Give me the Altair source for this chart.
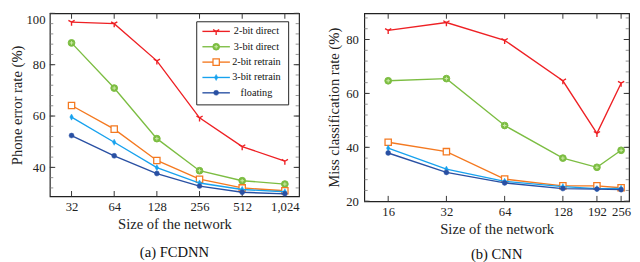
import altair as alt
import pandas as pd

SERIF = "'Liberation Serif', 'Times New Roman', 'DejaVu Serif', serif"

series = ["2-bit direct", "3-bit direct", "2-bit retrain", "3-bit retrain", "floating"]
colors = ["#ee2024", "#7cbd42", "#f47920", "#17a2ee", "#2950a3"]

# (a) FCDNN
fc_sizes = [32, 64, 128, 256, 512, 1024]
fc_2bit_direct = [96.6, 96.0, 81.5, 59.3, 48.1, 42.4]
fc_3bit_direct = [88.5, 70.9, 51.2, 38.7, 34.8, 33.5]
fc_2bit_retrain = [64.1, 54.9, 42.7, 35.4, 32.0, 30.9]
fc_3bit_retrain = [59.6, 49.8, 39.9, 33.9, 31.4, 30.5]
fc_floating = [52.4, 44.5, 37.6, 32.7, 30.3, 29.7]
fc_yticks = [40, 60, 80, 100]
fc_yminor = list(range(32, 101, 4))

# (b) CNN
cnn_sizes = [16, 32, 64, 128, 192, 256]
cnn_2bit_direct = [83.4, 86.3, 79.7, 64.7, 45.2, 63.8]
cnn_3bit_direct = [64.7, 65.5, 48.1, 36.0, 32.6, 38.9]
cnn_2bit_retrain = [41.9, 38.4, 28.2, 25.7, 25.7, 25.0]
cnn_3bit_retrain = [39.7, 31.9, 27.4, 25.4, 24.7, 24.8]
cnn_floating = [37.9, 30.7, 26.8, 24.7, 24.5, 24.3]
cnn_yticks = [20, 40, 60, 80]
cnn_yminor = list(range(20, 89, 4))

Y_PATH = "M0,0L0,1M0,0L-0.866,-0.5M0,0L0.866,-0.5"
PLUS_PATH = "M-1,0L1,0M0,-1L0,1"
DIAMOND_PATH = "M0,-1L0.55,0L0,1L-0.55,0Z"


def marker_styles(i):
    c = colors[i]
    if i == 0:
        return [dict(shape=Y_PATH, filled=False, stroke=c, strokeWidth=1.4, size=55)]
    if i == 1:
        return [dict(shape="circle", filled=True, fill=c, stroke=c, strokeWidth=1, size=48),
                dict(shape=PLUS_PATH, filled=False, stroke="#cdeaa8", strokeWidth=1, size=14)]
    if i == 2:
        return [dict(shape="square", filled=True, fill="white", stroke=c, strokeWidth=1.3, size=42)]
    if i == 3:
        return [dict(shape=DIAMOND_PATH, filled=True, fill=c, stroke=c, strokeWidth=0.5, size=40)]
    return [dict(shape="circle", filled=True, fill=c, stroke=c, strokeWidth=0.5, size=26)]


def panel(sizes, values_list, x_domain, y_domain, yticks, yminor, W, H, ytitle, caption,
          legend=False, flush=False, lab_pad=6, title_pad=4, cap_offset=14):
    x_enc = alt.X("n:Q", scale=alt.Scale(type="log", base=2, domain=x_domain, nice=False),
                  axis=alt.Axis(values=sizes, format=",d", title="Size of the network", ticks=False,
                                tickSize=0, domain=False, grid=False, labelPadding=5, titlePadding=3,
                                labelFlush=False))
    y_enc = alt.Y("v:Q", scale=alt.Scale(domain=y_domain, nice=False, zero=False),
                  axis=alt.Axis(values=yticks, title=ytitle, ticks=False, tickSize=0, domain=False,
                                grid=False, labelPadding=lab_pad, titlePadding=title_pad,
                                labelFlush=flush))
    layers = []
    major_df = pd.DataFrame({"v": yticks})
    minor_df = pd.DataFrame({"v": yminor})
    xt_df = pd.DataFrame({"n": sizes})
    layers.append(alt.Chart(minor_df).mark_rule(color="#777", strokeWidth=0.8).encode(
        y=y_enc, x=alt.value(0), x2=alt.value(3.5)))
    layers.append(alt.Chart(minor_df).mark_rule(color="#777", strokeWidth=0.8).encode(
        y=y_enc, x=alt.value(W), x2=alt.value(W - 3.5)))
    layers.append(alt.Chart(major_df).mark_rule(color="#333", strokeWidth=1).encode(
        y=y_enc, x=alt.value(0), x2=alt.value(5.5)))
    layers.append(alt.Chart(major_df).mark_rule(color="#333", strokeWidth=1).encode(
        y=y_enc, x=alt.value(W), x2=alt.value(W - 5.5)))
    layers.append(alt.Chart(xt_df).mark_rule(color="#333", strokeWidth=1).encode(
        x=x_enc, y=alt.value(H), y2=alt.value(H - 5.5)))
    layers.append(alt.Chart(xt_df).mark_rule(color="#333", strokeWidth=1).encode(
        x=x_enc, y=alt.value(0), y2=alt.value(5.5)))

    for i, vals in enumerate(values_list):
        df = pd.DataFrame({"n": sizes, "v": vals})
        layers.append(alt.Chart(df).mark_line(color=colors[i], strokeWidth=1.4).encode(x=x_enc, y=y_enc))
        for st in marker_styles(i):
            layers.append(alt.Chart(df).mark_point(opacity=1, **st).encode(x=x_enc, y=y_enc))

    if legend:
        sx = W / 263.0
        sy = H / 196.0
        layers.append(alt.Chart(pd.DataFrame({"k": [0]})).mark_rect(
            fill="white", stroke="#222", strokeWidth=1).encode(
            x=alt.value(155 * sx), x2=alt.value(252 * sx), y=alt.value(9 * sy), y2=alt.value(98 * sy)))
        for i, name in enumerate(series):
            ry = (19.3 + i * 16.45) * sy
            ldf = pd.DataFrame({"series": [name]})
            layers.append(alt.Chart(ldf).mark_rule(color=colors[i], strokeWidth=1.4).encode(
                x=alt.value(161 * sx), x2=alt.value(190 * sx), y=alt.value(ry)))
            for st in marker_styles(i):
                layers.append(alt.Chart(ldf).mark_point(opacity=1, **st).encode(
                    x=alt.value(175.5 * sx), y=alt.value(ry)))
            layers.append(alt.Chart(ldf).mark_text(
                align="center", baseline="middle", font=SERIF, fontSize=10.5, color="#111").encode(
                x=alt.value(218 * sx), y=alt.value(ry), text="series:N"))

    return alt.layer(*layers).properties(
        width=W, height=H,
        title=alt.TitleParams(caption, orient="bottom", anchor="middle", fontSize=15, font=SERIF,
                              fontWeight="normal", offset=cap_offset, color="#111"))


left = panel(fc_sizes, [fc_2bit_direct, fc_3bit_direct, fc_2bit_retrain, fc_3bit_retrain, fc_floating],
             [22.5, 1290], [28.7, 100], fc_yticks, fc_yminor, 256, 188,
             "Phone error rate (%)", "(a) FCDNN", legend=True, flush=True, lab_pad=5, title_pad=2,
             cap_offset=14)
right = panel(cnn_sizes, [cnn_2bit_direct, cnn_3bit_direct, cnn_2bit_retrain, cnn_3bit_retrain, cnn_floating],
              [12.04, 281.5], [20, 89.7], cnn_yticks, cnn_yminor, 272, 193,
              "Miss classification rate (%)", "(b) CNN", cap_offset=11)

chart = alt.hconcat(left, right, spacing=26).properties(
    padding={"left": 0, "top": 0, "right": 0, "bottom": 0}
).configure_view(stroke="#222", strokeWidth=1.2).configure_axis(
    labelFont=SERIF, titleFont=SERIF, labelFontSize=13, titleFontSize=15, titleFontWeight="normal",
    labelColor="#222", titleColor="#222")

chart.save("out.html", embed_options={"renderer": "svg", "actions": False})
